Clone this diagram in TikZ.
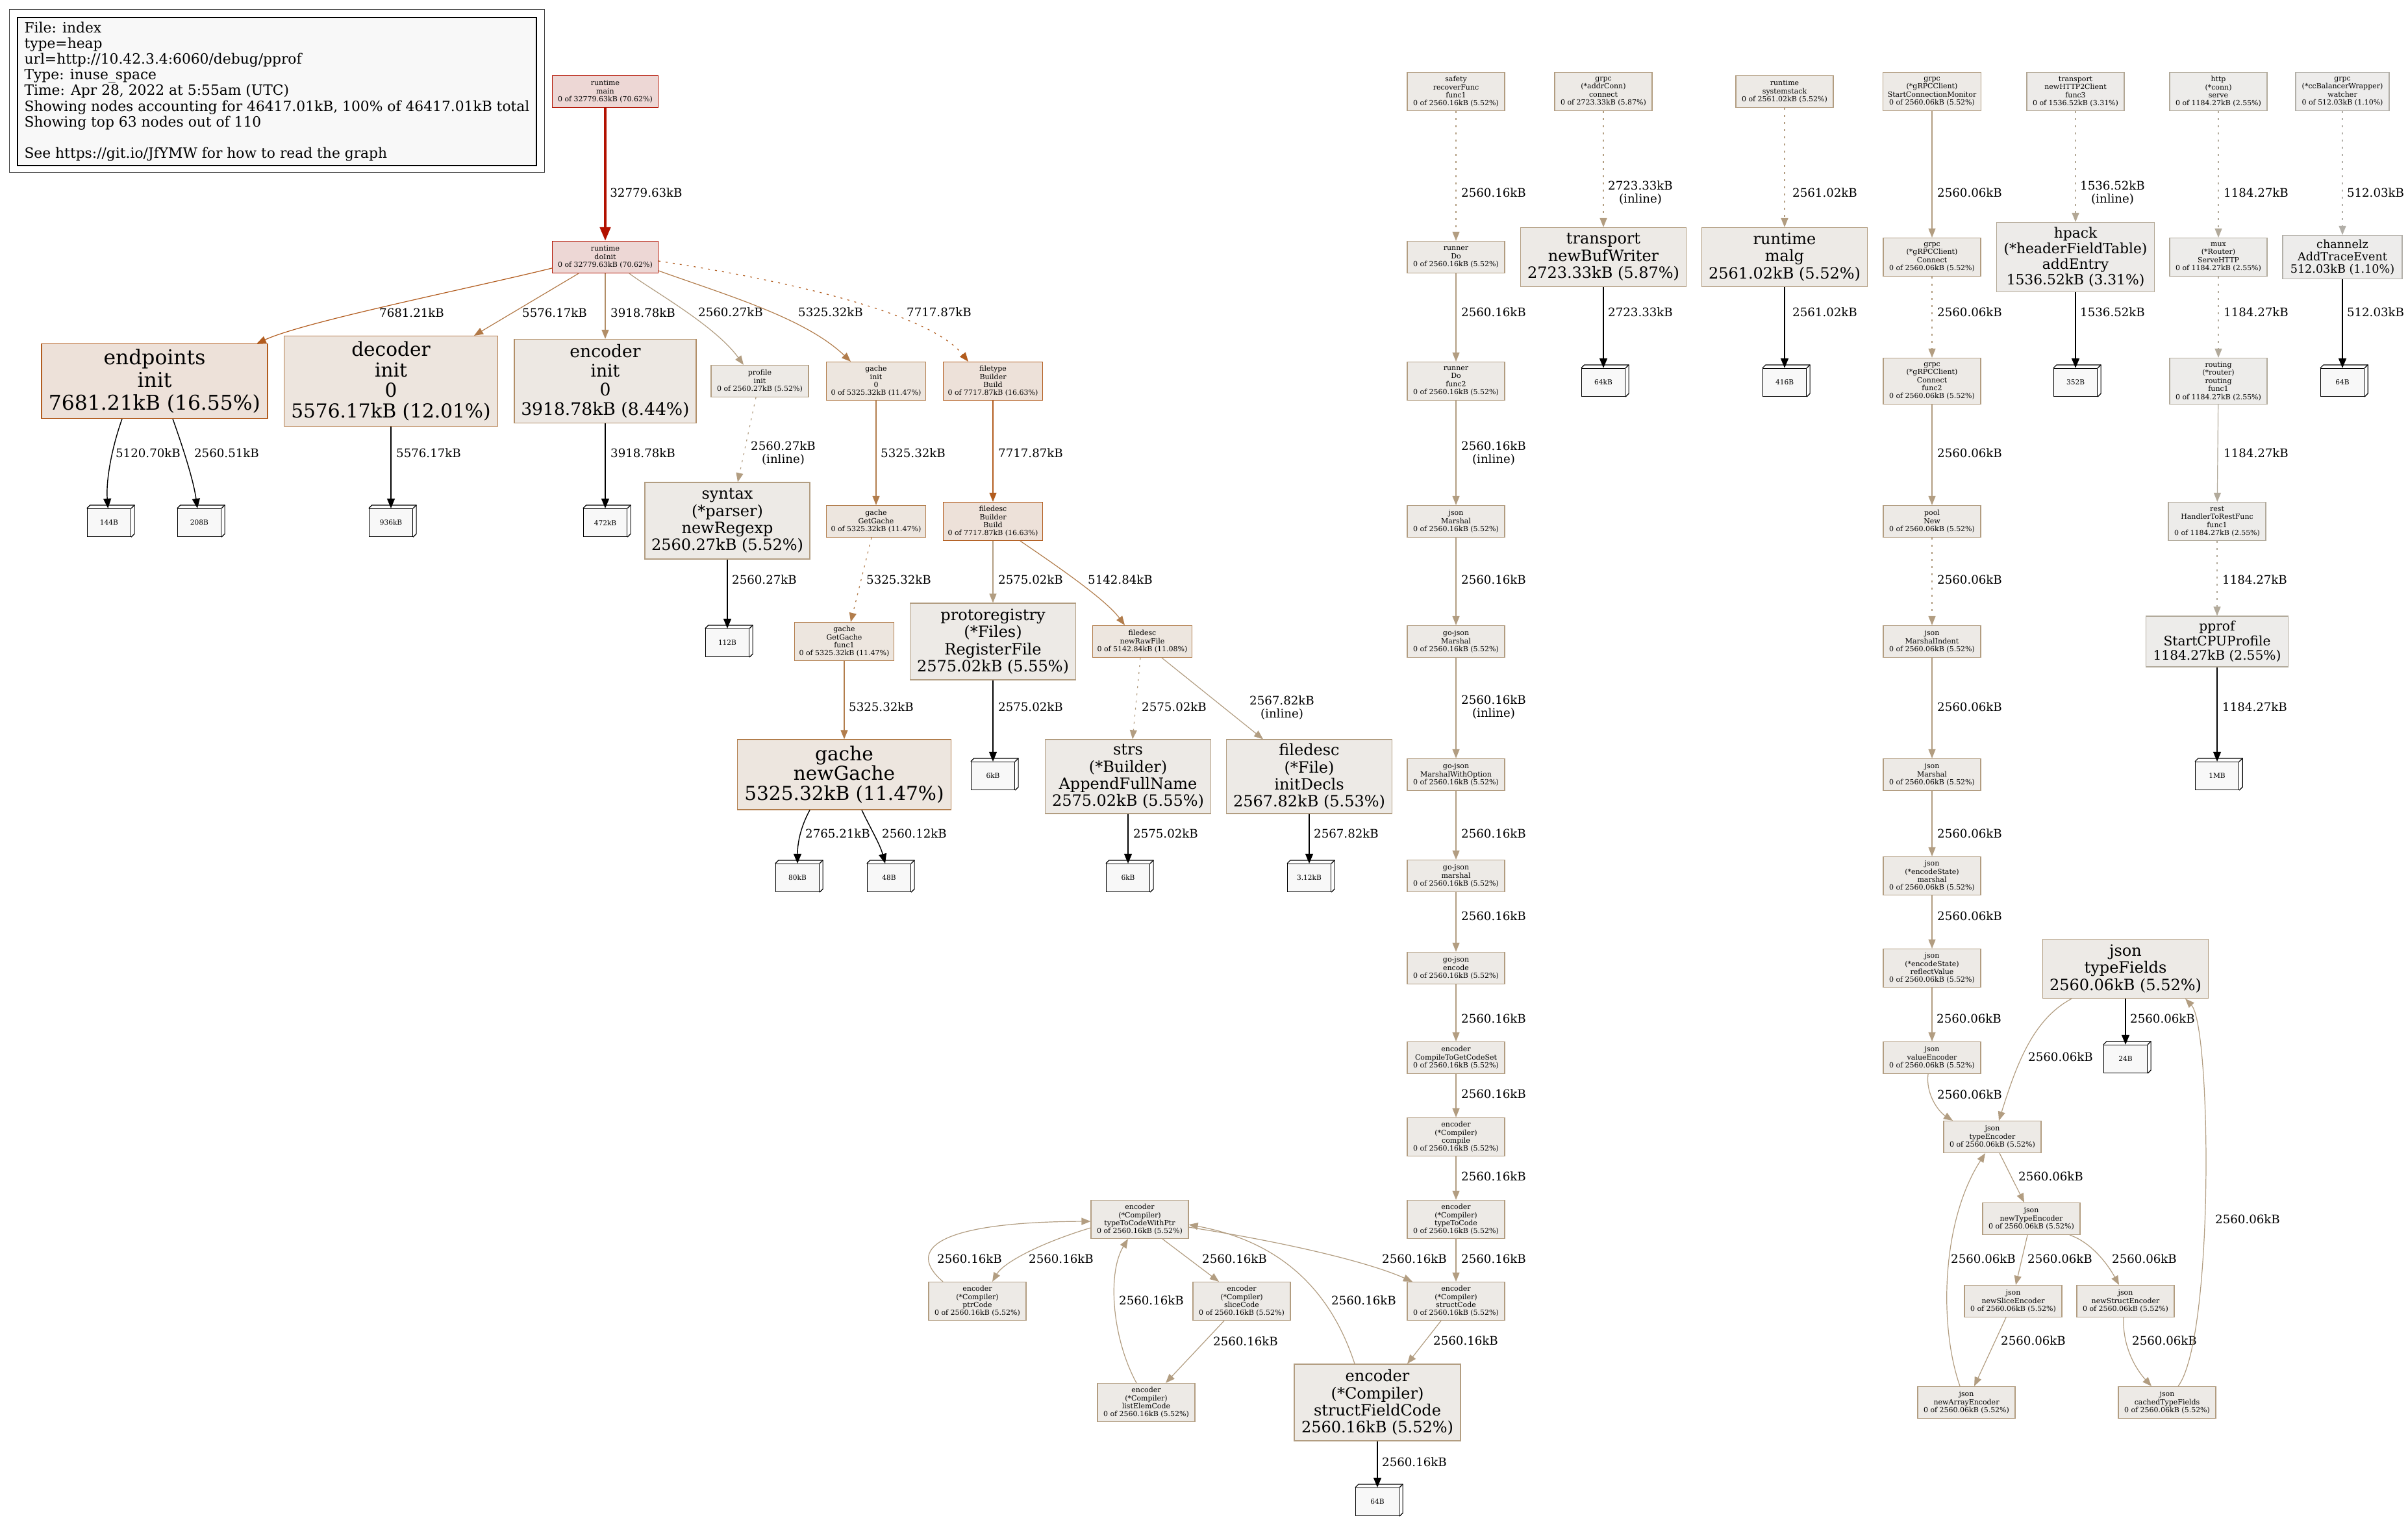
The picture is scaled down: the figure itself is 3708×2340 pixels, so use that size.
\documentclass[tikz,border=0pt]{standalone}
\usepackage{fontspec}
\setmainfont{DejaVu Serif}
\usetikzlibrary{arrows.meta}
\definecolor{mainbg}{HTML}{EDD7D5}
\definecolor{mainborder}{HTML}{B21100}
\definecolor{endpbg}{HTML}{EDE1D9}
\definecolor{endpborder}{HTML}{B25C1E}
\definecolor{decbg}{HTML}{EDE5DE}
\definecolor{decborder}{HTML}{B27947}
\definecolor{gachebg}{HTML}{EDE6DF}
\definecolor{gacheborder}{HTML}{B27D4C}
\definecolor{encbg}{HTML}{EDE8E3}
\definecolor{encborder}{HTML}{B28E67}
\definecolor{tanbg}{HTML}{EDEAE6}
\definecolor{tanborder}{HTML}{B29D81}
\definecolor{hpackbg}{HTML}{EDEBE9}
\definecolor{hpackborder}{HTML}{B2A795}
\definecolor{restbg}{HTML}{EDECEA}
\definecolor{restborder}{HTML}{B2AA9B}
\definecolor{chanbg}{HTML}{EDECEB}
\definecolor{chanborder}{HTML}{B2AFA8}
\definecolor{memfill}{HTML}{F8F8F8}

\begin{document}
\begin{tikzpicture}[
  x=0.5pt, y=-0.5pt,
  fn/.style 2 args={rectangle, draw=#1, fill=#2, line width=0.6pt, align=center,
    font=\fontsize{5.5}{6.2}\selectfont, minimum width=75pt, minimum height=24.5pt,
    inner xsep=3.5pt, inner ysep=1pt},
  four/.style={minimum height=29.5pt},
  five/.style={minimum height=35.5pt},
  flat/.style n args={4}{font=\fontsize{#1}{#2}\selectfont, minimum width=#3, minimum height=#4, inner sep=1pt},
  membox/.style={rectangle, draw=black, fill=memfill, line width=0.6pt,
    minimum width=33.5pt, minimum height=21.5pt, inner sep=0pt,
    font=\fontsize{5.3}{6}\selectfont,
    append after command={\pgfextra{
      \draw[line width=0.6pt] (\tikzlastnode.north west) -- ++(2.5pt,2.5pt)
        -| ([shift={(2.5pt,2.5pt)}]\tikzlastnode.south east) -- (\tikzlastnode.south east);
      \draw[line width=0.6pt] (\tikzlastnode.north east) -- ++(2.5pt,2.5pt);}}},
  link/.style={draw=#1, line width=0.6pt, -{Triangle[length=7pt, width=5.5pt]}},
  leaflink/.style={draw=black, line width=0.7pt, -{Triangle[length=7.5pt, width=6pt]}},
  inlined/.style={dash pattern=on 1.5pt off 4pt},
  lbl/.style={font=\fontsize{9.1}{10.4}\selectfont, align=center, inner sep=0pt},
  legendbox/.style={draw=black, fill=memfill, line width=0.6pt, align=left,
    minimum width=399.5pt, minimum height=114pt, inner sep=0pt,
    font=\fontsize{10.9}{12.1}\selectfont}
]
  \path[use as bounding box, fill=white] (0,0) rectangle (3708,2340);

  % Legend
  \node[legendbox] (legend) at (426.5,141) {File: index\\type=heap\\url=http://10.42.3.4:6060/debug/pprof\\Type: inuse\_space\\Time: Apr 28, 2022 at 5:55am (UTC)\\Showing nodes accounting for 46417.01kB, 100\% of 46417.01kB total\\Showing top 63 nodes out of 110\\[12.1pt]See https://git.io/JfYMW for how to read the graph};
  \draw[black!75, line width=0.7pt] ([shift={(-12,10)}]legend.south west) rectangle ([shift={(12,-12)}]legend.north east);

  % ==================== INIT TREE ====================
  \node[fn={mainborder}{mainbg}, minimum width=81.5pt] (rtmain) at (932,141) {runtime\\main\\0 of 32779.63kB (70.62\%)};
  \node[fn={mainborder}{mainbg}, minimum width=81.5pt] (doinit) at (932,396) {runtime\\doInit\\0 of 32779.63kB (70.62\%)};

  \node[fn={endpborder}{endpbg}, flat={15.7}{17.3}{174pt}{57.5pt}] (endpoints) at (238,587) {endpoints\\init\\7681.21kB (16.55\%)};
  \node[fn={decborder}{decbg}, flat={14.8}{15.8}{164.5pt}{69.5pt}] (decoder) at (602,587) {decoder\\init\\0\\5576.17kB (12.01\%)};
  \node[fn={encborder}{encbg}, flat={13.3}{14.7}{140pt}{64.5pt}] (encinit) at (932,587) {encoder\\init\\0\\3918.78kB (8.44\%)};
  \node[fn={tanborder}{tanbg}] (profinit) at (1170,587) {profile\\init\\0 of 2560.27kB (5.52\%)};
  \node[fn={gacheborder}{gachebg}, four] (gacheinit) at (1349,587) {gache\\init\\0\\0 of 5325.32kB (11.47\%)};
  \node[fn={endpborder}{endpbg}, four] (ftbuild) at (1529,587) {filetype\\Builder\\Build\\0 of 7717.87kB (16.63\%)};

  \node[fn={tanborder}{tanbg}, flat={12}{13.2}{127pt}{59pt}] (syntax) at (1120,802) {syntax\\(*parser)\\newRegexp\\2560.27kB (5.52\%)};
  \node[fn={gacheborder}{gachebg}] (getgache) at (1349,803) {gache\\GetGache\\0 of 5325.32kB (11.47\%)};
  \node[fn={endpborder}{endpbg}, four] (fdbuild) at (1529,803) {filedesc\\Builder\\Build\\0 of 7717.87kB (16.63\%)};

  \node[fn={gacheborder}{gachebg}, four] (getgachef1) at (1300,988) {gache\\GetGache\\func1\\0 of 5325.32kB (11.47\%)};
  \node[fn={tanborder}{tanbg}, flat={12}{13.2}{127.5pt}{59pt}] (protoreg) at (1529,988) {protoregistry\\(*Files)\\RegisterFile\\2575.02kB (5.55\%)};
  \node[fn={gacheborder}{gachebg}] (rawfile) at (1759,988) {filedesc\\newRawFile\\0 of 5142.84kB (11.08\%)};

  \node[fn={gacheborder}{gachebg}, flat={14.8}{15.4}{164.5pt}{54pt}] (newgache) at (1300,1193) {gache\\newGache\\5325.32kB (11.47\%)};
  \node[fn={tanborder}{tanbg}, flat={12}{13.2}{127.5pt}{57pt}] (strs) at (1737,1196) {strs\\(*Builder)\\AppendFullName\\2575.02kB (5.55\%)};
  \node[fn={tanborder}{tanbg}, flat={12}{13.2}{127.5pt}{57pt}] (initdecls) at (2016,1196) {filedesc\\(*File)\\initDecls\\2567.82kB (5.53\%)};

  % ==================== ENCODER CHAIN ====================
  \node[fn={tanborder}{tanbg}, four] (safety) at (2242,141) {safety\\recoverFunc\\func1\\0 of 2560.16kB (5.52\%)};
  \node[fn={tanborder}{tanbg}] (runnerdo) at (2242,396) {runner\\Do\\0 of 2560.16kB (5.52\%)};
  \node[fn={tanborder}{tanbg}, four] (func2) at (2242,587) {runner\\Do\\func2\\0 of 2560.16kB (5.52\%)};
  \node[fn={tanborder}{tanbg}] (jsonmarshal) at (2242,803) {json\\Marshal\\0 of 2560.16kB (5.52\%)};
  \node[fn={tanborder}{tanbg}] (gojsonmarshal) at (2242,988) {go-json\\Marshal\\0 of 2560.16kB (5.52\%)};
  \node[fn={tanborder}{tanbg}] (withoption) at (2242,1193) {go-json\\MarshalWithOption\\0 of 2560.16kB (5.52\%)};
  \node[fn={tanborder}{tanbg}] (gojsonlower) at (2242,1349) {go-json\\marshal\\0 of 2560.16kB (5.52\%)};
  \node[fn={tanborder}{tanbg}] (encode) at (2242,1491) {go-json\\encode\\0 of 2560.16kB (5.52\%)};
  \node[fn={tanborder}{tanbg}] (codeset) at (2242,1629) {encoder\\CompileToGetCodeSet\\0 of 2560.16kB (5.52\%)};
  \node[fn={tanborder}{tanbg}, four] (compile) at (2242,1751) {encoder\\(*Compiler)\\compile\\0 of 2560.16kB (5.52\%)};
  \node[fn={tanborder}{tanbg}, four] (typetocode) at (2242,1878) {encoder\\(*Compiler)\\typeToCode\\0 of 2560.16kB (5.52\%)};
  \node[fn={tanborder}{tanbg}, four] (structcode) at (2242,2004) {encoder\\(*Compiler)\\structCode\\0 of 2560.16kB (5.52\%)};
  \node[fn={tanborder}{tanbg}, four] (withptr) at (1755,1878) {encoder\\(*Compiler)\\typeToCodeWithPtr\\0 of 2560.16kB (5.52\%)};
  \node[fn={tanborder}{tanbg}, four] (ptrcode) at (1505,2004) {encoder\\(*Compiler)\\ptrCode\\0 of 2560.16kB (5.52\%)};
  \node[fn={tanborder}{tanbg}, four] (slicecode) at (1912,2004) {encoder\\(*Compiler)\\sliceCode\\0 of 2560.16kB (5.52\%)};
  \node[fn={tanborder}{tanbg}, four] (listelem) at (1765,2160) {encoder\\(*Compiler)\\listElemCode\\0 of 2560.16kB (5.52\%)};
  \node[fn={tanborder}{tanbg}, flat={12}{13.2}{128pt}{59pt}] (structfield) at (2121,2160) {encoder\\(*Compiler)\\structFieldCode\\2560.16kB (5.52\%)};

  % ==================== GRPC / JSON / HTTP ====================
  \node[fn={tanborder}{tanbg}, four] (addrconn) at (2469,141) {grpc\\(*addrConn)\\connect\\0 of 2723.33kB (5.87\%)};
  \node[fn={tanborder}{tanbg}, flat={12}{13.2}{127.5pt}{45.5pt}] (bufwriter) at (2469,396) {transport\\newBufWriter\\2723.33kB (5.87\%)};
  \node[fn={tanborder}{tanbg}] (sysstack) at (2748,141) {runtime\\systemstack\\0 of 2561.02kB (5.52\%)};
  \node[fn={tanborder}{tanbg}, flat={12}{13.2}{127.5pt}{45.5pt}] (malg) at (2748,396) {runtime\\malg\\2561.02kB (5.52\%)};

  \node[fn={tanborder}{tanbg}, four] (connmon) at (2975,141) {grpc\\(*gRPCClient)\\StartConnectionMonitor\\0 of 2560.06kB (5.52\%)};
  \node[fn={tanborder}{tanbg}, four] (connect) at (2975,396) {grpc\\(*gRPCClient)\\Connect\\0 of 2560.06kB (5.52\%)};
  \node[fn={tanborder}{tanbg}, five] (connfunc2) at (2975,587) {grpc\\(*gRPCClient)\\Connect\\func2\\0 of 2560.06kB (5.52\%)};
  \node[fn={tanborder}{tanbg}] (pool) at (2975,803) {pool\\New\\0 of 2560.06kB (5.52\%)};
  \node[fn={tanborder}{tanbg}] (indent) at (2975,988) {json\\MarshalIndent\\0 of 2560.06kB (5.52\%)};
  \node[fn={tanborder}{tanbg}] (jsonmarshal2) at (2975,1193) {json\\Marshal\\0 of 2560.06kB (5.52\%)};
  \node[fn={tanborder}{tanbg}, four] (esmarshal) at (2975,1349) {json\\(*encodeState)\\marshal\\0 of 2560.06kB (5.52\%)};
  \node[fn={tanborder}{tanbg}, four] (reflectvalue) at (2975,1491) {json\\(*encodeState)\\reflectValue\\0 of 2560.06kB (5.52\%)};
  \node[fn={tanborder}{tanbg}] (valueencoder) at (2975,1629) {json\\valueEncoder\\0 of 2560.06kB (5.52\%)};
  \node[fn={tanborder}{tanbg}] (typeencoder) at (3068,1751) {json\\typeEncoder\\0 of 2560.06kB (5.52\%)};
  \node[fn={tanborder}{tanbg}] (newtypeenc) at (3128,1877) {json\\newTypeEncoder\\0 of 2560.06kB (5.52\%)};
  \node[fn={tanborder}{tanbg}] (newslice) at (3100,2004) {json\\newSliceEncoder\\0 of 2560.06kB (5.52\%)};
  \node[fn={tanborder}{tanbg}] (newstruct) at (3273,2004) {json\\newStructEncoder\\0 of 2560.06kB (5.52\%)};
  \node[fn={tanborder}{tanbg}] (newarray) at (3028,2160) {json\\newArrayEncoder\\0 of 2560.06kB (5.52\%)};
  \node[fn={tanborder}{tanbg}] (cachedtf) at (3337,2160) {json\\cachedTypeFields\\0 of 2560.06kB (5.52\%)};
  \node[fn={tanborder}{tanbg}, flat={12}{13.2}{127.5pt}{45.5pt}] (typefields) at (3273,1492) {json\\typeFields\\2560.06kB (5.52\%)};

  \node[fn={hpackborder}{hpackbg}, four] (h2func) at (3196,141) {transport\\newHTTP2Client\\func3\\0 of 1536.52kB (3.31\%)};
  \node[fn={hpackborder}{hpackbg}, flat={10.9}{11.9}{121.5pt}{53.5pt}] (hpack) at (3196,396) {hpack\\(*headerFieldTable)\\addEntry\\1536.52kB (3.31\%)};
  \node[fn={restborder}{restbg}, four] (serve) at (3416,141) {http\\(*conn)\\serve\\0 of 1184.27kB (2.55\%)};
  \node[fn={restborder}{restbg}, four] (mux) at (3416,396) {mux\\(*Router)\\ServeHTTP\\0 of 1184.27kB (2.55\%)};
  \node[fn={restborder}{restbg}, five] (routing) at (3416,587) {routing\\(*router)\\routing\\func1\\0 of 1184.27kB (2.55\%)};
  \node[fn={restborder}{restbg}, four] (rest) at (3414,803) {rest\\HandlerToRestFunc\\func1\\0 of 1184.27kB (2.55\%)};
  \node[fn={restborder}{restbg}, flat={10.1}{11.3}{109.5pt}{39pt}] (pprof) at (3414,988) {pprof\\StartCPUProfile\\1184.27kB (2.55\%)};
  \node[fn={chanborder}{chanbg}, four, minimum width=72pt] (watcher) at (3607,141) {grpc\\(*ccBalancerWrapper)\\watcher\\0 of 512.03kB (1.10\%)};
  \node[fn={chanborder}{chanbg}, flat={8.8}{9.5}{92pt}{33.5pt}] (channelz) at (3607,396) {channelz\\AddTraceEvent\\512.03kB (1.10\%)};

  % Memory blocks
  \node[membox] (mem144) at (168,805) {144B};
  \node[membox] (mem208) at (307,805) {208B};
  \node[membox] (mem936) at (602,805) {936kB};
  \node[membox] (mem472) at (932,805) {472kB};
  \node[membox] (mem112) at (1120,990) {112B};
  \node[membox] (mem6ka) at (1529,1195) {6kB};
  \node[membox] (mem80) at (1228,1352) {80kB};
  \node[membox] (mem48) at (1369,1352) {48B};
  \node[membox] (mem6kb) at (1737,1352) {6kB};
  \node[membox] (mem312) at (2016,1352) {3.12kB};
  \node[membox] (mem64k) at (2469,589) {64kB};
  \node[membox] (mem416) at (2748,589) {416B};
  \node[membox] (mem352) at (3196,589) {352B};
  \node[membox] (mem64c) at (3607,589) {64B};
  \node[membox] (mem1mb) at (3414,1195) {1MB};
  \node[membox] (mem24) at (3273,1631) {24B};
  \node[membox] (mem64b) at (2121,2313) {64B};

  % ==================== EDGES: INIT TREE ====================
  \draw[link=mainborder, line width=2.2pt, -{Triangle[length=10.5pt, width=8pt]}] (rtmain) -- (doinit)
    node[lbl] at (995,297) {32779.63kB};
  \draw[link=endpborder] ([yshift=-8.5pt]doinit.west) .. controls (720,445) and (470,495) .. ([xshift=-8.5pt]endpoints.north east)
    node[lbl] at (634,482) {7681.21kB};
  \draw[link=decborder] ([xshift=-20.5pt]doinit.south) -- ([xshift=64pt]decoder.north)
    node[lbl] at (854,482) {5576.17kB};
  \draw[link=encborder] (doinit) -- (encinit)
    node[lbl] at (990,482) {3918.78kB};
  \draw[link=tanborder] ([xshift=18.5pt]doinit.south) .. controls (1000,445) and (1100,500) .. ([xshift=-12.5pt]profinit.north)
    node[lbl] at (1125,481) {2560.27kB};
  \draw[link=gacheborder] ([yshift=-10.5pt]doinit.east) .. controls (1120,455) and (1240,490) .. ([xshift=-19.5pt]gacheinit.north)
    node[lbl] at (1279,481) {5325.32kB};
  \draw[link=endpborder, inlined] ([yshift=-3pt]doinit.east) .. controls (1200,430) and (1430,480) .. ([xshift=-19pt]ftbuild.north)
    node[lbl] at (1446,481) {7717.87kB};

  \draw[leaflink] ([xshift=-25pt]endpoints.south) .. controls (172,690) and (163,740) .. (mem144)
    node[lbl] at (228,698) {5120.70kB};
  \draw[leaflink] ([xshift=14pt]endpoints.south) .. controls (282,690) and (298,740) .. (mem208)
    node[lbl] at (349,698) {2560.51kB};
  \draw[leaflink] (decoder) -- (mem936) node[lbl] at (660,698) {5576.17kB};
  \draw[leaflink] (encinit) -- (mem472) node[lbl] at (990,698) {3918.78kB};

  \draw[link=tanborder, inlined] ([xshift=-3pt]profinit.south) -- ([xshift=8pt]syntax.north)
    node[lbl] at (1206,698) {2560.27kB\\(inline)};
  \draw[leaflink] (syntax) -- (mem112) node[lbl] at (1177,893) {2560.27kB};
  \draw[link=gacheborder] (gacheinit) -- (getgache) node[lbl] at (1406,698) {5325.32kB};
  \draw[link=gacheborder, inlined] ([xshift=-3.5pt]getgache.south) -- ([xshift=5pt]getgachef1.north)
    node[lbl] at (1384,893) {5325.32kB};
  \draw[link=gacheborder] (getgachef1) -- (newgache) node[lbl] at (1357,1089) {5325.32kB};
  \draw[leaflink] ([xshift=-26.5pt]newgache.south) .. controls (1232,1275) and (1228,1300) .. (mem80)
    node[lbl] at (1290,1284) {2765.21kB};
  \draw[leaflink] ([xshift=13.5pt]newgache.south) .. controls (1340,1275) and (1355,1300) .. (mem48)
    node[lbl] at (1408,1284) {2560.12kB};

  \draw[link=endpborder] (ftbuild) -- (fdbuild) node[lbl] at (1587,698) {7717.87kB};
  \draw[link=tanborder] (fdbuild) -- (protoreg) node[lbl] at (1587,893) {2575.02kB};
  \draw[link=gacheborder] ([xshift=21pt]fdbuild.south) .. controls (1610,860) and (1700,920) .. ([xshift=-13.5pt]rawfile.north)
    node[lbl] at (1725,893) {5142.84kB};
  \draw[leaflink] (protoreg) -- (mem6ka) node[lbl] at (1587,1089) {2575.02kB};
  \draw[link=tanborder, inlined] ([xshift=-1.5pt]rawfile.south) -- ([xshift=3.5pt]strs.north)
    node[lbl] at (1808,1089) {2575.02kB};
  \draw[link=tanborder] ([xshift=15pt]rawfile.south) -- ([xshift=-35.5pt]initdecls.north)
    node[lbl] at (1974,1090) {2567.82kB\\(inline)};
  \draw[leaflink] (strs) -- (mem6kb) node[lbl] at (1795,1284) {2575.02kB};
  \draw[leaflink] (initdecls) -- (mem312) node[lbl] at (2073,1284) {2567.82kB};

  % ==================== EDGES: ENCODER CHAIN ====================
  \draw[link=tanborder, inlined] (safety) -- (runnerdo) node[lbl] at (2300,297) {2560.16kB};
  \draw[link=tanborder] (runnerdo) -- (func2) node[lbl] at (2300,481) {2560.16kB};
  \draw[link=tanborder] (func2) -- (jsonmarshal) node[lbl] at (2300,698) {2560.16kB\\(inline)};
  \draw[link=tanborder] (jsonmarshal) -- (gojsonmarshal) node[lbl] at (2300,893) {2560.16kB};
  \draw[link=tanborder] (gojsonmarshal) -- (withoption) node[lbl] at (2300,1089) {2560.16kB\\(inline)};
  \draw[link=tanborder] (withoption) -- (gojsonlower) node[lbl] at (2300,1284) {2560.16kB};
  \draw[link=tanborder] (gojsonlower) -- (encode) node[lbl] at (2300,1411) {2560.16kB};
  \draw[link=tanborder] (encode) -- (codeset) node[lbl] at (2300,1569) {2560.16kB};
  \draw[link=tanborder] (codeset) -- (compile) node[lbl] at (2300,1685) {2560.16kB};
  \draw[link=tanborder] (compile) -- (typetocode) node[lbl] at (2300,1812) {2560.16kB};
  \draw[link=tanborder] (typetocode) -- (structcode) node[lbl] at (2300,1939) {2560.16kB};
  \draw[link=tanborder] ([xshift=-11.5pt]structcode.south) -- ([xshift=23pt]structfield.north)
    node[lbl] at (2257,2065) {2560.16kB};
  \draw[link=tanborder] ([yshift=-6pt]withptr.east) .. controls (1990,1915) and (2110,1945) .. ([xshift=-33.5pt]structcode.north)
    node[lbl] at (2178,1939) {2560.16kB};
  \draw[link=tanborder] ([xshift=-17.5pt]structfield.north) .. controls (2045,1975) and (1960,1910) .. ([yshift=-4pt]withptr.east)
    node[lbl] at (2100,2003) {2560.16kB};
  \draw[link=tanborder] ([yshift=-6.5pt]withptr.west) .. controls (1600,1915) and (1545,1945) .. ([xshift=11.5pt]ptrcode.north)
    node[lbl] at (1634,1939) {2560.16kB};
  \draw[link=tanborder] ([xshift=-26.5pt]ptrcode.north) .. controls (1395,1925) and (1440,1882) .. ([yshift=-1.5pt]withptr.west)
    node[lbl] at (1493,1939) {2560.16kB};
  \draw[link=tanborder] ([xshift=17.5pt]withptr.south) -- ([xshift=-17.5pt]slicecode.north)
    node[lbl] at (1901,1939) {2560.16kB};
  \draw[link=tanborder] ([xshift=-13.5pt]slicecode.south) -- ([xshift=15pt]listelem.north)
    node[lbl] at (1918,2066) {2560.16kB};
  \draw[link=tanborder] ([xshift=-7.5pt]listelem.north) .. controls (1712,2060) and (1705,1960) .. ([xshift=-9pt]withptr.south)
    node[lbl] at (1773,2003) {2560.16kB};
  \draw[leaflink] (structfield) -- (mem64b) node[lbl] at (2178,2252) {2560.16kB};

  % ==================== EDGES: RIGHT SIDE ====================
  \draw[link=tanborder, inlined] (addrconn) -- (bufwriter) node[lbl] at (2526,297) {2723.33kB\\(inline)};
  \draw[leaflink] (bufwriter) -- (mem64k) node[lbl] at (2526,481) {2723.33kB};
  \draw[link=tanborder, inlined] (sysstack) -- (malg) node[lbl] at (2810,297) {2561.02kB};
  \draw[leaflink] (malg) -- (mem416) node[lbl] at (2810,481) {2561.02kB};

  \draw[link=tanborder] (connmon) -- (connect) node[lbl] at (3033,297) {2560.06kB};
  \draw[link=tanborder, inlined] (connect) -- (connfunc2) node[lbl] at (3033,481) {2560.06kB};
  \draw[link=tanborder] (connfunc2) -- (pool) node[lbl] at (3033,698) {2560.06kB};
  \draw[link=tanborder, inlined] (pool) -- (indent) node[lbl] at (3033,893) {2560.06kB};
  \draw[link=tanborder] (indent) -- (jsonmarshal2) node[lbl] at (3033,1089) {2560.06kB};
  \draw[link=tanborder] (jsonmarshal2) -- (esmarshal) node[lbl] at (3033,1284) {2560.06kB};
  \draw[link=tanborder] (esmarshal) -- (reflectvalue) node[lbl] at (3033,1411) {2560.06kB};
  \draw[link=tanborder] (reflectvalue) -- (valueencoder) node[lbl] at (3032,1569) {2560.06kB};
  \draw[link=tanborder] ([xshift=-3pt]valueencoder.south) .. controls (2965,1685) and (2985,1712) .. ([xshift=-30.5pt]typeencoder.north)
    node[lbl] at (3033,1686) {2560.06kB};
  \draw[link=tanborder] ([xshift=-41.5pt]typefields.south) .. controls (3130,1570) and (3105,1640) .. ([xshift=5pt]typeencoder.north)
    node[lbl] at (3173,1628) {2560.06kB};
  \draw[leaflink] (typefields) -- (mem24) node[lbl] at (3330,1569) {2560.06kB};
  \draw[link=tanborder] ([xshift=5.5pt]typeencoder.south) -- ([xshift=-5.5pt]newtypeenc.north)
    node[lbl] at (3158,1812) {2560.06kB};
  \draw[link=tanborder] ([xshift=-3pt]newtypeenc.south) -- ([xshift=2pt]newslice.north)
    node[lbl] at (3172,1939) {2560.06kB};
  \draw[link=tanborder] ([xshift=29.5pt]newtypeenc.south) .. controls (3225,1915) and (3250,1955) .. ([xshift=-5pt]newstruct.north)
    node[lbl] at (3302,1939) {2560.06kB};
  \draw[link=tanborder] ([xshift=-5.5pt]newslice.south) -- ([xshift=6pt]newarray.north)
    node[lbl] at (3131,2065) {2560.06kB};
  \draw[link=tanborder] ([xshift=-5pt]newarray.north) .. controls (2985,2040) and (2990,1880) .. ([xshift=-5.5pt]typeencoder.south)
    node[lbl] at (3054,1939) {2560.06kB};
  \draw[link=tanborder] ([xshift=-1.5pt]newstruct.south) .. controls (3268,2075) and (3290,2110) .. ([xshift=-12pt]cachedtf.north)
    node[lbl] at (3333,2065) {2560.06kB};
  \draw[link=tanborder] ([xshift=8.5pt]cachedtf.north) .. controls (3410,2060) and (3405,1580) .. ([xshift=46pt]typefields.south)
    node[lbl] at (3461,1878) {2560.06kB};

  \draw[link=hpackborder, inlined] (h2func) -- (hpack) node[lbl] at (3253,297) {1536.52kB\\(inline)};
  \draw[leaflink] (hpack) -- (mem352) node[lbl] at (3253,481) {1536.52kB};
  \draw[link=restborder, inlined] (serve) -- (mux) node[lbl] at (3474,297) {1184.27kB};
  \draw[link=restborder, inlined] (mux) -- (routing) node[lbl] at (3474,481) {1184.27kB};
  \draw[link=restborder] (routing) -- (rest) node[lbl] at (3474,698) {1184.27kB};
  \draw[link=restborder, inlined] (rest) -- (pprof) node[lbl] at (3472,893) {1184.27kB};
  \draw[leaflink] (pprof) -- (mem1mb) node[lbl] at (3472,1089) {1184.27kB};
  \draw[link=chanborder, inlined] (watcher) -- (channelz) node[lbl] at (3658,297) {512.03kB};
  \draw[leaflink] (channelz) -- (mem64c) node[lbl] at (3658,481) {512.03kB};

\end{tikzpicture}
\end{document}
